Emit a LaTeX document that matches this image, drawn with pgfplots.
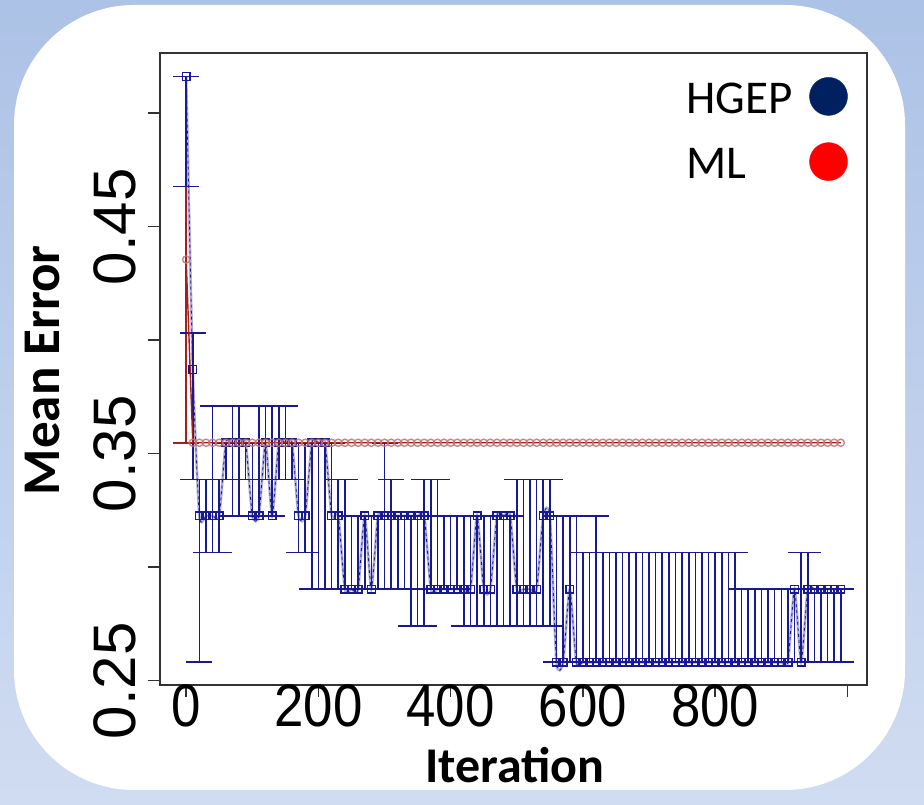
\documentclass[border=0pt]{standalone}
\usepackage{pgfplots}
\usepackage{pgfplotstable}
\pgfplotsset{compat=1.18}
\usepackage{fontspec}
\setmainfont{Carlito}
\newfontfamily\arial{Liberation Sans}
\newcommand\sx[1]{\scalebox{0.88}[1]{#1}}
\definecolor{bgtop}{RGB}{172,194,230}
\definecolor{bgbot}{RGB}{208,220,241}
\definecolor{hblue}{RGB}{25,25,145}
\definecolor{hline}{RGB}{175,175,218}
\definecolor{mlred}{RGB}{165,30,30}
\definecolor{mlcirc}{RGB}{190,115,115}
\definecolor{legblue}{RGB}{0,32,96}
\definecolor{axgray}{RGB}{50,50,50}

\pgfplotstableread{
x y lo hi
0 0.5161 0.4677 0.5161
10 0.3871 0.3387 0.4032
20 0.3226 0.2581 0.3387
30 0.3226 0.3065 0.3387
40 0.3226 0.3065 0.3710
50 0.3226 0.3065 0.3387
60 0.3548 0.3387 0.3548
70 0.3548 0.3226 0.3710
80 0.3548 0.3226 0.3710
90 0.3548 0.3387 0.3548
100 0.3226 0.3226 0.3548
110 0.3226 0.3226 0.3710
120 0.3548 0.3387 0.3710
130 0.3226 0.3226 0.3710
140 0.3548 0.3387 0.3710
150 0.3548 0.3387 0.3710
160 0.3548 0.3387 0.3548
170 0.3226 0.3065 0.3548
180 0.3226 0.3065 0.3548
190 0.3548 0.2903 0.3548
200 0.3548 0.2903 0.3548
210 0.3548 0.2903 0.3548
220 0.3226 0.2903 0.3548
230 0.3226 0.2903 0.3387
240 0.2903 0.2903 0.3387
250 0.2903 0.2903 0.3226
260 0.2903 0.2903 0.3226
270 0.3226 0.2903 0.3226
280 0.2903 0.2903 0.3226
290 0.3226 0.2903 0.3226
300 0.3226 0.2903 0.3548
310 0.3226 0.2903 0.3387
320 0.3226 0.2903 0.3226
330 0.3226 0.2903 0.3226
340 0.3226 0.2742 0.3226
350 0.3226 0.2742 0.3226
360 0.3226 0.2742 0.3387
370 0.2903 0.2903 0.3387
380 0.2903 0.2903 0.3387
390 0.2903 0.2903 0.3226
400 0.2903 0.2903 0.3226
410 0.2903 0.2903 0.3226
420 0.2903 0.2742 0.3226
430 0.2903 0.2742 0.3226
440 0.3226 0.2742 0.3226
450 0.2903 0.2742 0.3226
460 0.2903 0.2742 0.3226
470 0.3226 0.2742 0.3226
480 0.3226 0.2742 0.3226
490 0.3226 0.2742 0.3226
500 0.2903 0.2742 0.3387
510 0.2903 0.2742 0.3387
520 0.2903 0.2742 0.3387
530 0.2903 0.2742 0.3387
540 0.3226 0.2742 0.3387
550 0.3226 0.2742 0.3387
560 0.2581 0.2581 0.3226
570 0.2581 0.2581 0.3226
580 0.2903 0.2581 0.3226
590 0.2581 0.2581 0.3226
600 0.2581 0.2581 0.3065
610 0.2581 0.2581 0.3065
620 0.2581 0.2581 0.3226
630 0.2581 0.2581 0.3065
640 0.2581 0.2581 0.3065
650 0.2581 0.2581 0.3065
660 0.2581 0.2581 0.3065
670 0.2581 0.2581 0.3065
680 0.2581 0.2581 0.3065
690 0.2581 0.2581 0.3065
700 0.2581 0.2581 0.3065
710 0.2581 0.2581 0.3065
720 0.2581 0.2581 0.3065
730 0.2581 0.2581 0.3065
740 0.2581 0.2581 0.3065
750 0.2581 0.2581 0.3065
760 0.2581 0.2581 0.3065
770 0.2581 0.2581 0.3065
780 0.2581 0.2581 0.3065
790 0.2581 0.2581 0.3065
800 0.2581 0.2581 0.3065
810 0.2581 0.2581 0.3065
820 0.2581 0.2581 0.3065
830 0.2581 0.2581 0.3065
840 0.2581 0.2581 0.2903
850 0.2581 0.2581 0.2903
860 0.2581 0.2581 0.2903
870 0.2581 0.2581 0.2903
880 0.2581 0.2581 0.2903
890 0.2581 0.2581 0.2903
900 0.2581 0.2581 0.2903
910 0.2581 0.2581 0.2903
920 0.2903 0.2581 0.2903
930 0.2581 0.2581 0.3065
940 0.2903 0.2581 0.3065
950 0.2903 0.2581 0.2903
960 0.2903 0.2581 0.2903
970 0.2903 0.2581 0.2903
980 0.2903 0.2581 0.2903
990 0.2903 0.2581 0.2903
}\hgep

\pgfplotstableread{
x y
0 0.4355
10 0.3548
20 0.3548
30 0.3548
40 0.3548
50 0.3548
60 0.3548
70 0.3548
80 0.3548
90 0.3548
100 0.3548
110 0.3548
120 0.3548
130 0.3548
140 0.3548
150 0.3548
160 0.3548
170 0.3548
180 0.3548
190 0.3548
200 0.3548
210 0.3548
220 0.3548
230 0.3548
240 0.3548
250 0.3548
260 0.3548
270 0.3548
280 0.3548
290 0.3548
300 0.3548
310 0.3548
320 0.3548
330 0.3548
340 0.3548
350 0.3548
360 0.3548
370 0.3548
380 0.3548
390 0.3548
400 0.3548
410 0.3548
420 0.3548
430 0.3548
440 0.3548
450 0.3548
460 0.3548
470 0.3548
480 0.3548
490 0.3548
500 0.3548
510 0.3548
520 0.3548
530 0.3548
540 0.3548
550 0.3548
560 0.3548
570 0.3548
580 0.3548
590 0.3548
600 0.3548
610 0.3548
620 0.3548
630 0.3548
640 0.3548
650 0.3548
660 0.3548
670 0.3548
680 0.3548
690 0.3548
700 0.3548
710 0.3548
720 0.3548
730 0.3548
740 0.3548
750 0.3548
760 0.3548
770 0.3548
780 0.3548
790 0.3548
800 0.3548
810 0.3548
820 0.3548
830 0.3548
840 0.3548
850 0.3548
860 0.3548
870 0.3548
880 0.3548
890 0.3548
900 0.3548
910 0.3548
920 0.3548
930 0.3548
940 0.3548
950 0.3548
960 0.3548
970 0.3548
980 0.3548
990 0.3548
}\ml

\begin{document}
\begin{tikzpicture}
\shade[top color=bgtop, bottom color=bgbot] (0,0) rectangle (924pt,805pt);
\fill[white, rounded corners=120pt] (14pt,15pt) rectangle (905pt,800pt);
\begin{axis}[
  at={(160pt,120pt)}, anchor=south west,
  width=707pt, height=632pt, scale only axis,
  xmin=-39.6, xmax=1029.6, ymin=0.2481, ymax=0.5265,
  axis line style={axgray, line width=1.6pt},
  tick style={axgray, line width=1.6pt},
  tick align=outside, major tick length=12pt,
  xtick={0,200,400,600,800,1000},
  xticklabels={\sx{0},\sx{200},\sx{400},\sx{600},\sx{800},},
  ytick={0.25,0.30,0.35,0.40,0.45,0.50},
  yticklabels={0.25,,0.35,,0.45,},
  xtick pos=bottom, ytick pos=left,
  ticklabel style={font=\arial\fontsize{60}{66}\selectfont, text=black},
  xticklabel style={anchor=north, yshift=16pt},
  yticklabel style={xshift=-8pt, rotate=90, anchor=south},
  xlabel={Iteration}, ylabel={Mean Error},
  xlabel style={font=\bfseries\fontsize{50}{56}\selectfont,
    at={(axis description cs:0.502,-0.127)}, anchor=center},
  ylabel style={font=\bfseries\fontsize{53}{58}\selectfont,
    at={(axis description cs:-0.166,0.498)}, anchor=center},
  legend image code/.code={\fill[#1] (19pt,3pt) circle (19pt);},
  legend style={at={(axis description cs:0.973,0.962)}, anchor=north east,
    draw=none, fill=none, font=\fontsize{47}{52}\selectfont,
    nodes={inner sep=1pt}, row sep=26pt, column sep=16pt, inner sep=0pt},
  legend plot pos=right,
  legend cell align=left,
  clip=true,
]
\addplot[hline, line width=2.6pt, smooth, tension=0.35, no marks, forget plot] table[x=x,y=y]{\hgep};
\addplot[hblue, line width=0.8pt, dash pattern=on 3pt off 3pt, smooth, tension=0.35, no marks, forget plot] table[x=x,y=y]{\hgep};
\addplot[mlred, line width=1.4pt, no marks, forget plot,
  error bars/.cd, y dir=both, y explicit,
  error bar style={line width=1.5pt, mlred},
  error mark options={rotate=90, line width=1.5pt, mark size=13pt, mlred}]
  coordinates {(0,0.4355) += (0,0.0322) -= (0,0.0807)};
\addplot[hblue, only marks, mark=square, mark size=3.9pt,
  mark options={line width=1.4pt, fill=none}, forget plot,
  error bars/.cd, y dir=both, y explicit,
  error bar style={line width=1.6pt, hblue},
  error mark options={rotate=90, line width=1.6pt, mark size=13pt, hblue}]
  table[x=x, y=y, y error plus expr=\thisrow{hi}-\thisrow{y},
        y error minus expr=\thisrow{y}-\thisrow{lo}]{\hgep};
\addplot[mlred, line width=1.4pt, mark=o, mark size=3.6pt,
  mark options={mlcirc, line width=1.4pt, opacity=0.85}, forget plot]
  table[x=x,y=y]{\ml};
\addlegendimage{legblue}
\addlegendentry{HGEP}
\addlegendimage{red}
\addlegendentry{ML}
\end{axis}
\pgfresetboundingbox
\useasboundingbox (0,0) rectangle (924pt,805pt);
\end{tikzpicture}
\end{document}
